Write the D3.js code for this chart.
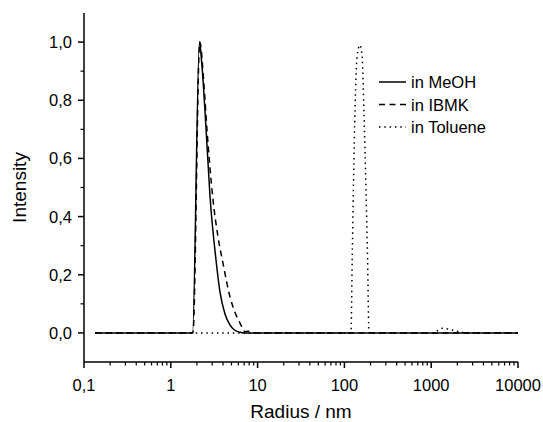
<!DOCTYPE html>
<html>
<head>
<meta charset="utf-8">
<script src="https://cdn.jsdelivr.net/npm/d3@7"></script>
<style>
  body { margin: 0; background: #fff; }
  text { font-family: "Liberation Sans", Arial, Helvetica, sans-serif; fill: #000; }
</style>
</head>
<body>
<svg id="chart"></svg>
<script>
const width = 543;
const height = 422;

// radius (nm) and intensity for each solvent
const meohRadius = [0.134, 1.78, 2.14, 2.27, 2.55, 2.83, 3.32, 3.69, 4.21, 4.8, 5.4, 6.3, 7.0, 10000];
const meohIntensity = [0, 0, 1.0, 0.93, 0.70, 0.47, 0.25, 0.14, 0.065, 0.028, 0.01, 0.002, 0, 0];

const ibmkRadius = [0.134, 1.80, 2.16, 2.4, 2.61, 3.04, 3.5, 3.99, 4.81, 5.5, 6.27, 7.2, 8.17, 9.5, 10000];
const ibmkIntensity = [0, 0, 1.0, 0.86, 0.70, 0.467, 0.33, 0.24, 0.124, 0.07, 0.034, 0.004, 0.007, 0, 0];

const tolRadius = [0.134, 119, 123, 127, 133, 140, 151, 160, 168, 177, 185, 192, 1040, 1356, 1738, 2264, 2500, 10000];
const tolIntensity = [0, 0, 0.25, 0.5, 0.78, 0.95, 0.99, 0.95, 0.76, 0.5, 0.25, 0, 0, 0.016, 0.01, 0.002, 0, 0];

const series = [
    { name: "in MeOH", r: meohRadius, v: meohIntensity, dash: null },
    { name: "in IBMK", r: ibmkRadius, v: ibmkIntensity, dash: "6,4.5" },
    { name: "in Toluene", r: tolRadius, v: tolIntensity, dash: "1.5,3.8" }
];

const xMajor = [0.1, 1, 10, 100, 1000, 10000];
const xMajorLabels = ["0,1", "1", "10", "100", "1000", "10000"];
const yMajor = [0, 0.2, 0.4, 0.6, 0.8, 1.0];
const yMinor = [0.1, 0.3, 0.5, 0.7, 0.9];

const margin = { left: 84, right: 25, top: 13, bottom: 60 };

const x = d3.scaleLog().domain([0.1, 10000]).range([margin.left, width - margin.right]);
const y = d3.scaleLinear().domain([-0.1, 1.1]).range([height - margin.bottom, margin.top]);

const svg = d3.select("#chart").attr("width", width).attr("height", height);

// minor x ticks 2..9 per decade
const xMinor = [];
for (let d = 0.1; d < 10000; d *= 10) {
    for (let k = 2; k <= 9; k++) xMinor.push(d * k);
}

const xAxis = svg.append("g").attr("transform", "translate(0," + y(-0.1) + ")");
xAxis.append("line")
    .attr("x1", x(0.1)).attr("x2", x(10000))
    .attr("stroke", "#000").attr("stroke-width", 1.5);
xAxis.selectAll(".major").data(xMajor).enter().append("line")
    .attr("x1", d => x(d)).attr("x2", d => x(d))
    .attr("y1", 0).attr("y2", 6)
    .attr("stroke", "#000").attr("stroke-width", 1.5);
xAxis.selectAll(".minor").data(xMinor).enter().append("line")
    .attr("x1", d => x(d)).attr("x2", d => x(d))
    .attr("y1", 0).attr("y2", 3.5)
    .attr("stroke", "#000").attr("stroke-width", 1.2);
xAxis.selectAll("text").data(xMajor).enter().append("text")
    .attr("x", d => x(d)).attr("y", 29)
    .attr("text-anchor", "middle")
    .attr("font-size", "16.5px")
    .text((d, i) => xMajorLabels[i]);

const yAxis = svg.append("g").attr("transform", "translate(" + x(0.1) + ",0)");
yAxis.append("line")
    .attr("y1", y(-0.1)).attr("y2", y(1.1))
    .attr("stroke", "#000").attr("stroke-width", 1.5);
yAxis.selectAll(".major").data(yMajor).enter().append("line")
    .attr("y1", d => y(d)).attr("y2", d => y(d))
    .attr("x1", 0).attr("x2", -6)
    .attr("stroke", "#000").attr("stroke-width", 1.5);
yAxis.selectAll(".minor").data(yMinor).enter().append("line")
    .attr("y1", d => y(d)).attr("y2", d => y(d))
    .attr("x1", 0).attr("x2", -3.5)
    .attr("stroke", "#000").attr("stroke-width", 1.2);
yAxis.selectAll("text").data(yMajor).enter().append("text")
    .attr("x", -12).attr("y", d => y(d) + 6)
    .attr("text-anchor", "end")
    .attr("font-size", "16.5px")
    .text(d => d3.format(".1f")(d).replace(".", ","));

svg.append("text")
    .attr("x", (x(0.1) + x(10000)) / 2).attr("y", 418)
    .attr("text-anchor", "middle")
    .attr("font-size", "19px")
    .text("Radius / nm");

svg.append("text")
    .attr("transform", "translate(26," + (y(-0.1) + y(1.1)) / 2 + ") rotate(-90)")
    .attr("text-anchor", "middle")
    .attr("font-size", "19px")
    .text("Intensity");

const line = d3.line()
    .x(d => x(d[0]))
    .y(d => y(d[1]))
    .curve(d3.curveMonotoneX);

svg.selectAll(".series").data(series).enter().append("path")
    .attr("d", s => line(s.r.map((r, i) => [r, s.v[i]])))
    .attr("fill", "none")
    .attr("stroke", "#000")
    .attr("stroke-width", 1.5)
    .attr("stroke-dasharray", s => s.dash);

const legend = svg.append("g").attr("transform", "translate(379,82)");
legend.selectAll("line").data(series).enter().append("line")
    .attr("x1", 0).attr("x2", 27)
    .attr("y1", (d, i) => i * 22.5).attr("y2", (d, i) => i * 22.5)
    .attr("stroke", "#000").attr("stroke-width", 1.5)
    .attr("stroke-dasharray", d => d.dash);
legend.selectAll("text").data(series).enter().append("text")
    .attr("x", 32).attr("y", (d, i) => i * 22.5 + 6)
    .attr("font-size", "16.5px")
    .text(d => d.name);
</script>
</body>
</html>
